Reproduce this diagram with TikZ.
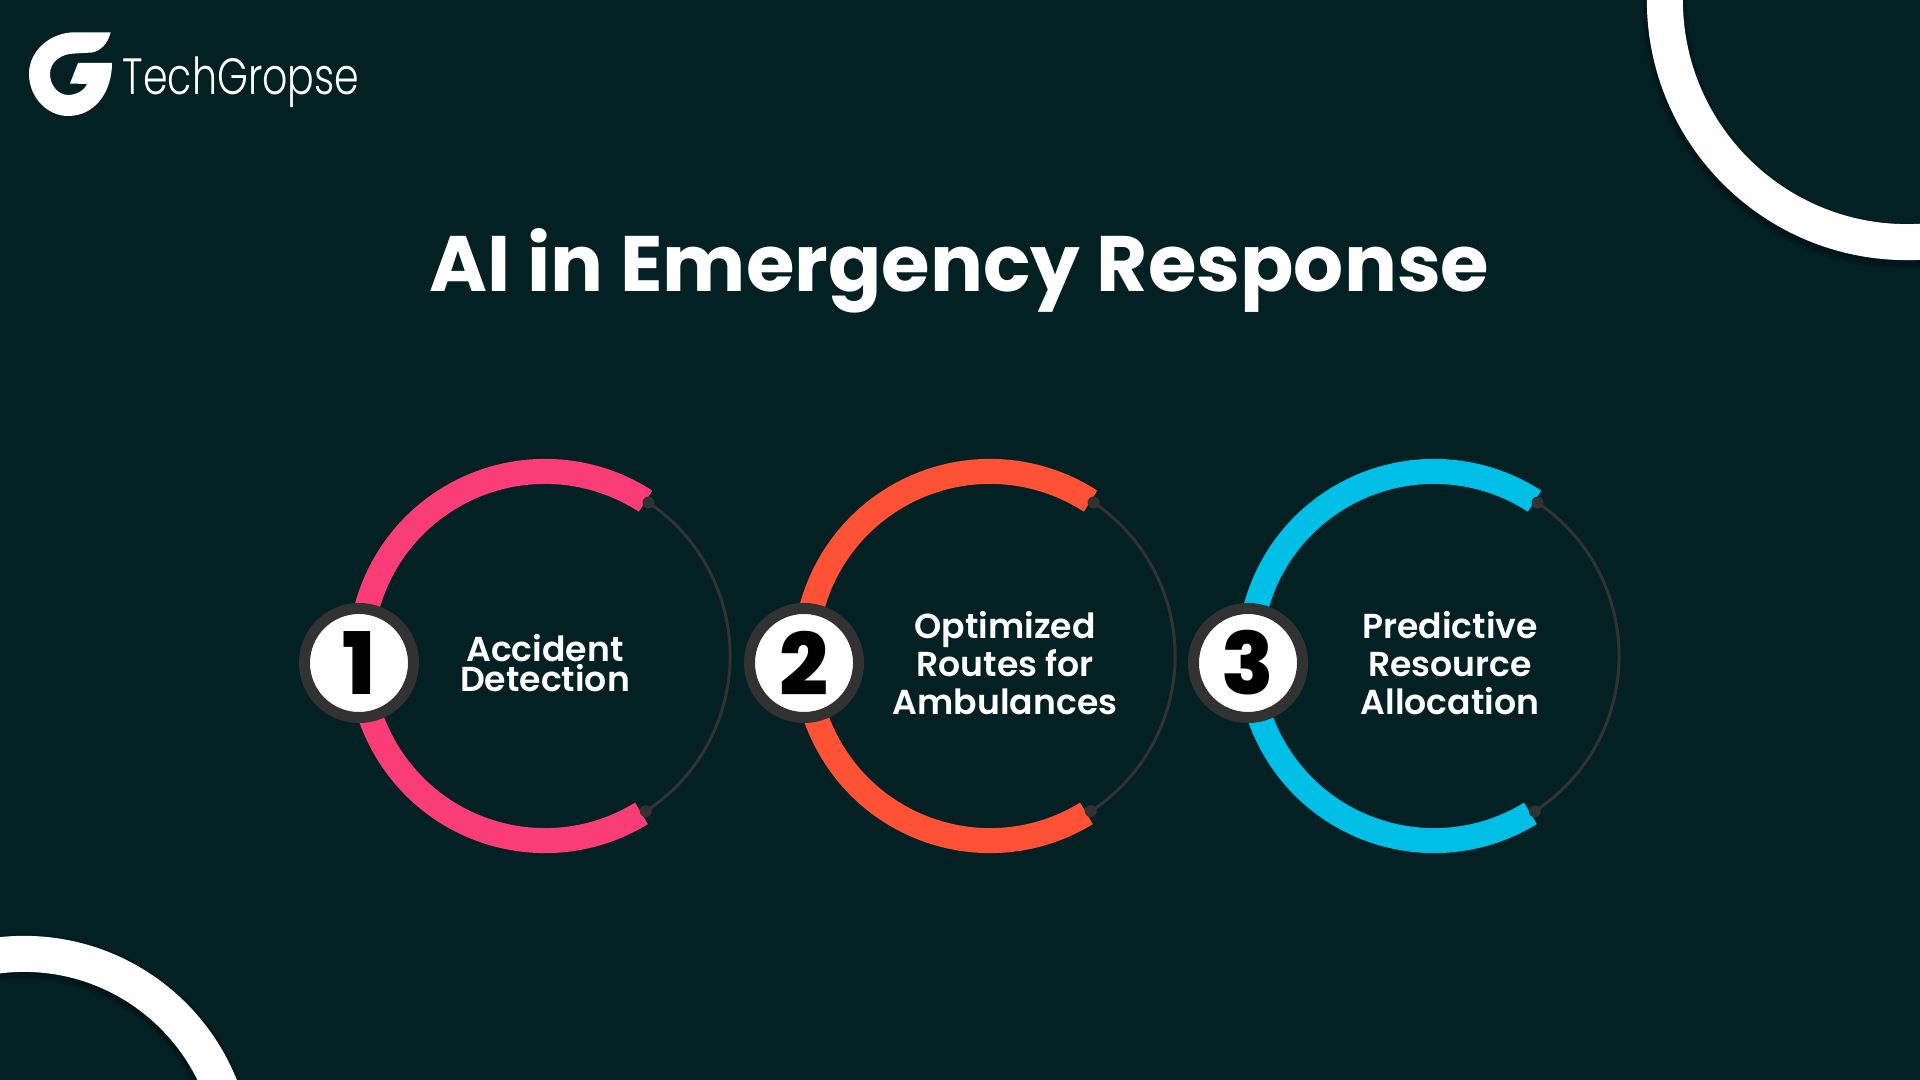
\documentclass[tikz,border=0pt]{standalone}
\usepackage{fontspec}
\setmainfont{Poppins}[UprightFont=* SemiBold,BoldFont=* Bold]
\newfontfamily\logofont{Poppins}[UprightFont=* Light,FakeStretch=0.776]
\newfontfamily\digitfont{Poppins}[UprightFont=* ExtraBold]
\definecolor{bgdark}{HTML}{032023}
\definecolor{ringgrey}{HTML}{323232}
\definecolor{pinkish}{HTML}{FB3D77}
\definecolor{orangish}{HTML}{FF5136}
\definecolor{cyanish}{HTML}{00BFE6}
\tikzset{
    stepname/.style={text=white, align=center, font=\fontsize{9.85}{10.8}\selectfont},
    badge/.style={circle, draw=ringgrey, line width=0.11cm, fill=white, minimum size=1.09cm,
        inner sep=0pt, text=black, font=\digitfont\fontsize{24.5}{24.5}\selectfont},
    ringshadow/.style={black, opacity=0.1},
}
\begin{document}
\begin{tikzpicture}[x=0.01cm, y=-0.01cm]
        \fill[bgdark] (0, 0) rectangle (1920, 1080);
        \useasboundingbox (0, 0) rectangle (1920, 1080);

        % Corner rings
        \begin{scope}
            \clip (0, 0) rectangle (1920, 1080);
            \foreach \w in {0.39, 0.42, 0.46} {
                \draw[ringshadow, line width=\w cm] (1907, 4) circle (2.42cm);
                \draw[ringshadow, line width=\w cm] (24, 1168) circle (2.11cm);
            }
            \draw[white, line width=0.36cm] (1907, 0) circle (2.42cm);
            \draw[white, line width=0.36cm] (24, 1165) circle (2.11cm);
        \end{scope}

        % Logo
        \fill[white] (110.7, 32.3) -- (75, 32.3) .. controls (50, 32.3) and (29, 51) .. (29, 74)
            .. controls (29, 97) and (47, 116) .. (68, 116)
            .. controls (95, 116) and (112, 92) .. (112, 63) -- (78, 63) -- (70, 83.5) -- (87, 84)
            .. controls (84, 91) and (76, 95) .. (68, 95)
            .. controls (58, 95) and (50, 85) .. (50, 74)
            .. controls (50, 62) and (61, 53.5) .. (75, 53.5) -- (92, 52.5)
            .. controls (101, 51) and (108, 43) .. (110.7, 32.3) -- cycle;
        \node[text=white, anchor=base west, inner sep=0pt, font=\logofont\fontsize{14.5}{14.5}\selectfont] (logo) at (122, 95) {TechGropse};

        % Title
        \node[text=white, font=\bfseries\fontsize{22.36}{22.36}\selectfont] (title) at (959.5, 271) {AI in Emergency Response};

        % Steps
        \foreach \cx/\col/\num/\txt/\tx/\nm in {
            545/pinkish/1/{Accident\\[-2.1pt]Detection}/545/one,
            990/orangish/2/{Optimized\\Routes for\\Ambulances}/1005/two,
            1434/cyanish/3/{Predictive\\Resource\\Allocation}/1450/three} {
            \coordinate (c\nm) at (\cx, 656);
            \draw[ringgrey, line width=0.03cm] (c\nm) ++(-57:1.85cm) arc (-57:57:1.85cm);
            \draw[\col, line width=0.25cm] (c\nm) ++(-58.5:1.845cm) arc (-58.5:-303:1.845cm);
            \fill[ringgrey] (c\nm) ++(56:1.85cm) circle (0.06cm);
            \fill[ringgrey] (c\nm) ++(-57:1.85cm) circle (0.06cm);
            \node[stepname] (label\nm) at (\tx, 663) {\txt};
            \node[badge] (badge\nm) at (\cx-186, 663) {\num};
        }
    \end{tikzpicture}
\end{document}
